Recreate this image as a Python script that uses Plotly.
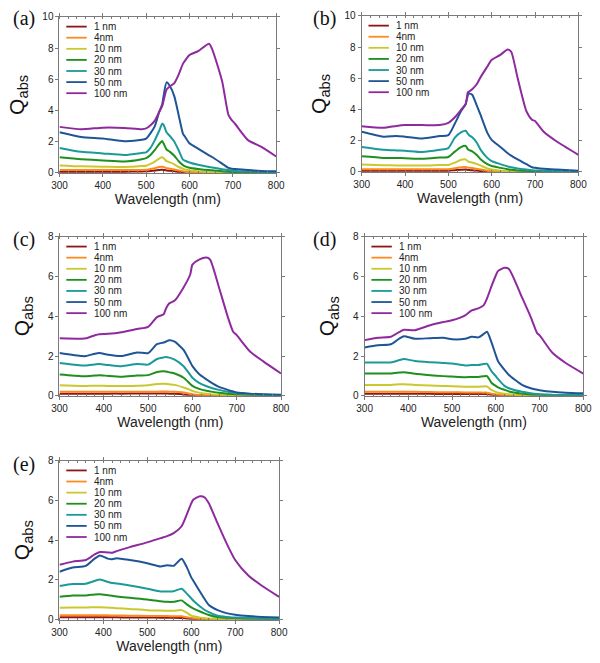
import plotly.graph_objects as go

# ---------------- data ----------------
LABELS = ["1 nm", "4nm", "10 nm", "20 nm", "30 nm", "50 nm", "100 nm"]
COLORS = ["#8c1515", "#ff8a1c", "#c9c92e", "#1f8f1f", "#1a9a98", "#1f5596", "#8e2a9e"]
PANEL_NAMES = ["(a)", "(b)", "(c)", "(d)", "(e)"]
Y_MAX = [10, 10, 8, 8, 8]
X_TICKS = [300, 400, 500, 600, 700, 800]

WL_A = [300, 350, 400, 450, 490, 500, 510, 520, 530, 537, 540, 547, 555, 565, 575, 585, 590, 600, 620, 645, 652, 675, 690, 697, 705, 735, 765, 800]
QA_1 = [0.08, 0.08, 0.08, 0.08, 0.09, 0.1, 0.12, 0.15, 0.19, 0.2, 0.19, 0.16, 0.14, 0.11, 0.07, 0.05, 0.04, 0.03, 0.01, 0, 0, 0, 0, 0, 0, 0, 0, 0]
QA_4 = [0.18, 0.18, 0.18, 0.18, 0.19, 0.2, 0.25, 0.3, 0.38, 0.4, 0.38, 0.3, 0.27, 0.22, 0.15, 0.1, 0.08, 0.05, 0.02, 0.01, 0.01, 0, 0, 0, 0, 0, 0, 0]
QA_10 = [0.48, 0.42, 0.4, 0.38, 0.44, 0.46, 0.58, 0.73, 0.92, 1.0, 0.95, 0.75, 0.68, 0.55, 0.38, 0.27, 0.22, 0.17, 0.1, 0.05, 0.04, 0.02, 0.01, 0.01, 0.01, 0.0, 0.0, 0.0]
QA_20 = [1.0, 0.88, 0.8, 0.73, 0.88, 0.95, 1.15, 1.47, 1.85, 2.05, 1.9, 1.5, 1.35, 1.1, 0.75, 0.5, 0.42, 0.33, 0.25, 0.18, 0.17, 0.1, 0.07, 0.06, 0.05, 0.04, 0.03, 0.02]
QA_30 = [1.6, 1.35, 1.25, 1.15, 1.28, 1.32, 1.6, 2.1, 2.7, 3.15, 3.1, 2.6, 2.35, 2.0, 1.45, 0.85, 0.78, 0.67, 0.52, 0.38, 0.35, 0.24, 0.18, 0.15, 0.13, 0.1, 0.08, 0.06]
QA_50 = [2.6, 2.3, 2.2, 2.03, 2.12, 2.2, 2.55, 3.0, 3.9, 4.4, 4.9, 5.8, 5.55, 4.9, 3.7, 2.5, 2.3, 1.9, 1.55, 1.12, 1.02, 0.6, 0.32, 0.27, 0.25, 0.18, 0.13, 0.1]
QA_100 = [2.95, 2.8, 2.9, 2.88, 2.8, 2.85, 3.05, 3.35, 3.9, 4.3, 4.6, 5.35, 5.55, 5.75, 6.3, 7.0, 7.2, 7.55, 7.8, 8.28, 7.95, 5.9, 3.7, 3.4, 3.15, 2.1, 1.68, 1.05]

WL_B = [300, 350, 380, 400, 440, 480, 500, 515, 530, 540, 545, 548, 555, 565, 575, 590, 600, 620, 637, 645, 660, 680, 693, 700, 720, 750, 800]
QB_1 = [0.07, 0.07, 0.07, 0.07, 0.07, 0.08, 0.08, 0.11, 0.14, 0.15, 0.13, 0.12, 0.11, 0.09, 0.06, 0.03, 0.02, 0.01, 0, 0, 0, 0, 0, 0, 0, 0, 0]
QB_4 = [0.17, 0.17, 0.17, 0.17, 0.17, 0.18, 0.18, 0.24, 0.3, 0.32, 0.28, 0.27, 0.25, 0.2, 0.15, 0.08, 0.05, 0.02, 0.01, 0, 0, 0, 0, 0, 0, 0, 0]
QB_10 = [0.47, 0.43, 0.42, 0.42, 0.41, 0.44, 0.45, 0.6, 0.78, 0.8, 0.68, 0.65, 0.6, 0.52, 0.4, 0.22, 0.15, 0.08, 0.05, 0.04, 0.02, 0.01, 0, 0, 0, 0, 0]
QB_20 = [1.0, 0.9, 0.89, 0.88, 0.84, 0.92, 0.96, 1.3, 1.6, 1.67, 1.45, 1.4, 1.32, 1.1, 0.8, 0.5, 0.38, 0.26, 0.17, 0.14, 0.1, 0.06, 0.04, 0.04, 0.03, 0.02, 0.01]
QB_30 = [1.6, 1.42, 1.38, 1.36, 1.28, 1.42, 1.53, 2.2, 2.55, 2.64, 2.45, 2.35, 2.22, 1.9, 1.4, 0.9, 0.69, 0.5, 0.35, 0.3, 0.22, 0.15, 0.11, 0.1, 0.08, 0.06, 0.04]
QB_50 = [2.57, 2.26, 2.3, 2.26, 2.15, 2.3, 2.36, 3.1, 3.93, 4.35, 4.9, 5.02, 4.94, 4.3, 3.6, 2.5, 2.05, 1.6, 1.2, 1.05, 0.8, 0.5, 0.3, 0.27, 0.2, 0.15, 0.08]
QB_100 = [2.93, 2.83, 2.95, 3.0, 3.0, 3.0, 3.14, 3.5, 4.0, 4.35, 5.1, 5.15, 5.3, 5.6, 6.1, 6.75, 7.18, 7.5, 7.85, 7.7, 6.0, 3.9, 3.35, 3.26, 2.57, 1.95, 1.1]

WL_C = [300, 350, 360, 380, 390, 410, 440, 475, 500, 520, 535, 540, 548, 560, 580, 595, 600, 615, 632, 640, 660, 680, 692, 700, 730, 760, 800]
QC_1 = [0.1, 0.1, 0.1, 0.1, 0.1, 0.11, 0.11, 0.12, 0.12, 0.12, 0.12, 0.12, 0.11, 0.1, 0.07, 0.03, 0.02, 0.01, 0, 0, 0, 0, 0, 0, 0, 0, 0]
QC_4 = [0.2, 0.2, 0.2, 0.2, 0.2, 0.2, 0.2, 0.2, 0.2, 0.21, 0.22, 0.22, 0.21, 0.2, 0.17, 0.1, 0.08, 0.04, 0.02, 0.01, 0, 0, 0, 0, 0, 0, 0]
QC_10 = [0.53, 0.5, 0.5, 0.51, 0.51, 0.5, 0.49, 0.51, 0.53, 0.59, 0.61, 0.6, 0.58, 0.55, 0.42, 0.3, 0.25, 0.16, 0.1, 0.08, 0.05, 0.03, 0.02, 0.02, 0.01, 0, 0]
QC_20 = [1.07, 0.99, 0.99, 1.02, 1.04, 1.0, 0.96, 1.02, 1.04, 1.2, 1.24, 1.22, 1.18, 1.12, 0.91, 0.6, 0.5, 0.35, 0.25, 0.22, 0.15, 0.1, 0.09, 0.08, 0.05, 0.03, 0.02]
QC_30 = [1.65, 1.53, 1.53, 1.58, 1.6, 1.55, 1.49, 1.6, 1.57, 1.85, 1.93, 1.95, 1.92, 1.82, 1.49, 1.05, 0.91, 0.65, 0.48, 0.42, 0.3, 0.2, 0.15, 0.13, 0.08, 0.05, 0.03]
QC_50 = [2.15, 2.0, 2.0, 2.12, 2.15, 2.06, 2.0, 2.18, 2.15, 2.6, 2.68, 2.72, 2.8, 2.72, 2.31, 1.7, 1.49, 1.1, 0.82, 0.7, 0.45, 0.3, 0.22, 0.17, 0.11, 0.08, 0.05]
QC_100 = [2.89, 2.87, 2.89, 3.05, 3.1, 3.12, 3.2, 3.36, 3.47, 3.96, 4.1, 4.37, 4.65, 4.79, 5.45, 6.1, 6.6, 6.85, 6.96, 6.85, 5.45, 3.96, 3.22, 3.05, 2.23, 1.73, 1.12]

WL_D = [300, 330, 360, 380, 390, 415, 450, 480, 500, 530, 545, 560, 572, 580, 590, 600, 605, 620, 630, 660, 680, 695, 700, 730, 760, 800]
QD_1 = [0.1, 0.1, 0.1, 0.1, 0.1, 0.1, 0.1, 0.09, 0.09, 0.09, 0.09, 0.09, 0.09, 0.08, 0.05, 0.03, 0.02, 0.01, 0, 0, 0, 0, 0, 0, 0, 0]
QD_4 = [0.2, 0.2, 0.2, 0.21, 0.21, 0.2, 0.19, 0.18, 0.18, 0.17, 0.17, 0.17, 0.16, 0.16, 0.11, 0.08, 0.06, 0.03, 0.02, 0.01, 0, 0, 0, 0, 0, 0]
QD_10 = [0.55, 0.55, 0.55, 0.58, 0.58, 0.55, 0.52, 0.5, 0.48, 0.46, 0.46, 0.46, 0.47, 0.47, 0.3, 0.2, 0.16, 0.1, 0.08, 0.03, 0.02, 0.01, 0.01, 0, 0, 0]
QD_20 = [1.12, 1.12, 1.12, 1.17, 1.19, 1.11, 1.04, 0.99, 0.97, 0.94, 0.95, 0.95, 0.98, 0.99, 0.66, 0.5, 0.43, 0.3, 0.22, 0.11, 0.07, 0.05, 0.05, 0.03, 0.02, 0.01]
QD_30 = [1.68, 1.68, 1.68, 1.8, 1.85, 1.75, 1.69, 1.65, 1.62, 1.53, 1.55, 1.55, 1.6, 1.6, 1.24, 0.99, 0.85, 0.5, 0.38, 0.2, 0.13, 0.09, 0.08, 0.05, 0.04, 0.03]
QD_50 = [2.43, 2.54, 2.59, 2.89, 3.0, 2.87, 2.9, 2.92, 2.84, 2.87, 2.97, 2.94, 3.1, 3.22, 2.7, 2.05, 1.75, 1.3, 1.05, 0.55, 0.38, 0.3, 0.28, 0.2, 0.16, 0.13]
QD_100 = [2.8, 2.92, 2.97, 3.22, 3.32, 3.3, 3.55, 3.71, 3.8, 4.05, 4.3, 4.4, 4.55, 4.9, 5.5, 6.05, 6.27, 6.44, 6.38, 4.95, 3.96, 3.14, 3.05, 2.15, 1.65, 1.12]

WL_E = [300, 330, 360, 380, 392, 410, 420, 430, 460, 500, 530, 545, 560, 578, 590, 600, 605, 620, 630, 640, 660, 680, 700, 730, 760, 800]
QE_1 = [0.12, 0.12, 0.12, 0.12, 0.12, 0.12, 0.12, 0.12, 0.11, 0.11, 0.1, 0.1, 0.1, 0.09, 0.06, 0.04, 0.03, 0.01, 0.01, 0, 0, 0, 0, 0, 0, 0]
QE_4 = [0.22, 0.22, 0.22, 0.22, 0.22, 0.22, 0.21, 0.21, 0.2, 0.19, 0.18, 0.18, 0.17, 0.17, 0.12, 0.09, 0.07, 0.04, 0.03, 0.02, 0.01, 0, 0, 0, 0, 0]
QE_10 = [0.6, 0.61, 0.61, 0.63, 0.63, 0.61, 0.6, 0.58, 0.54, 0.48, 0.46, 0.45, 0.45, 0.48, 0.35, 0.2, 0.17, 0.1, 0.08, 0.06, 0.04, 0.03, 0.02, 0.01, 0, 0]
QE_20 = [1.15, 1.22, 1.22, 1.27, 1.28, 1.23, 1.2, 1.17, 1.1, 1.02, 0.93, 0.9, 0.9, 0.97, 0.77, 0.62, 0.56, 0.41, 0.32, 0.24, 0.13, 0.1, 0.08, 0.05, 0.04, 0.03]
QE_30 = [1.69, 1.79, 1.81, 1.95, 2.02, 1.9, 1.84, 1.82, 1.72, 1.56, 1.42, 1.42, 1.43, 1.56, 1.31, 1.07, 0.95, 0.66, 0.5, 0.38, 0.2, 0.14, 0.11, 0.08, 0.06, 0.05]
QE_50 = [2.41, 2.62, 2.71, 3.07, 3.23, 3.07, 3.04, 3.09, 3.0, 2.84, 2.68, 2.74, 2.71, 3.07, 2.63, 2.13, 1.95, 1.4, 1.05, 0.74, 0.48, 0.33, 0.25, 0.18, 0.14, 0.11]
QE_100 = [2.76, 2.92, 3.0, 3.28, 3.4, 3.38, 3.37, 3.45, 3.65, 3.89, 4.1, 4.2, 4.35, 4.7, 5.3, 5.85, 6.04, 6.21, 6.16, 5.85, 4.84, 3.86, 3.0, 2.22, 1.72, 1.15]

PANELS = [
    (WL_A, [QA_1, QA_4, QA_10, QA_20, QA_30, QA_50, QA_100]),
    (WL_B, [QB_1, QB_4, QB_10, QB_20, QB_30, QB_50, QB_100]),
    (WL_C, [QC_1, QC_4, QC_10, QC_20, QC_30, QC_50, QC_100]),
    (WL_D, [QD_1, QD_4, QD_10, QD_20, QD_30, QD_50, QD_100]),
    (WL_E, [QE_1, QE_4, QE_10, QE_20, QE_30, QE_50, QE_100]),
]

# ---------------- layout (pixel boxes of plot areas) ----------------
W, H = 600, 663
BOXES = [(53, 11, 276, 170), (364, 10, 587, 169),
         (53, 235, 281, 397), (367, 235, 592, 397),
         (53, 463, 279, 625)]
LABEL_POS = [(3, 13), (312, 13), (3, 238), (312, 238), (3, 467)]

AXIS_COLOR = "#7a7a7a"
FONT = "Arial, Liberation Sans, sans-serif"

fig = go.Figure()
layout = dict(width=W, height=H, margin=dict(l=0, r=0, t=0, b=0),
              paper_bgcolor="white", plot_bgcolor="white", showlegend=False,
              font=dict(family=FONT, color="#222"))
shapes, annots = [], []

for i, ((wl, series), box, ymax, name, lpos) in enumerate(zip(PANELS, BOXES, Y_MAX, PANEL_NAMES, LABEL_POS)):
    sfx = "" if i == 0 else str(i + 1)
    xid, yid = "x" + sfx, "y" + sfx
    x0, y0, x1, y1 = box
    for lab, col, q in zip(LABELS, COLORS, series):
        fig.add_trace(go.Scatter(x=wl, y=q, mode="lines", name=lab,
                                 line=dict(color=col, width=2, shape="spline", smoothing=0.6),
                                 xaxis=xid, yaxis=yid, showlegend=False))
    common = dict(showline=True, linecolor=AXIS_COLOR, linewidth=1, mirror="ticks",
                  ticks="outside", ticklen=3, tickcolor=AXIS_COLOR, tickwidth=1,
                  showgrid=False, zeroline=False,
                  tickfont=dict(size=10, family=FONT, color="#222"))
    layout["xaxis" + sfx] = dict(common, domain=[x0 / W, x1 / W], anchor=yid,
                                 range=[300, 800], tickvals=X_TICKS,
                                 minor=dict(ticks="inside", ticklen=2, dtick=20, tickcolor=AXIS_COLOR),
                                 title=dict(text="Wavelength (nm)", font=dict(size=14, family=FONT, color="#222"), standoff=4))
    layout["yaxis" + sfx] = dict(common, domain=[1 - y1 / H, 1 - y0 / H], anchor=xid,
                                 range=[0, ymax], dtick=2,
                                 title=dict(text="Q<sub>abs</sub>", font=dict(size=21, family=FONT, color="#111"), standoff=12))
    # panel label
    annots.append(dict(text=name, xref="paper", yref="paper", x=lpos[0] / W, y=1 - lpos[1] / H,
                       xanchor="left", yanchor="middle", showarrow=False,
                       font=dict(family="Liberation Serif, Times New Roman, serif", size=20, color="#111")))
    # legend (drawn manually for compact spacing)
    pw, ph = x1 - x0, y1 - y0
    for k, (lab, col) in enumerate(zip(LABELS, COLORS)):
        yy = 1 - (10 + 11.3 * k) / ph
        shapes.append(dict(type="line", xref=xid + " domain", yref=yid + " domain",
                           x0=7 / pw, x1=28 / pw, y0=yy, y1=yy,
                           line=dict(color=col, width=1.8)))
        annots.append(dict(text=lab, xref=xid + " domain", yref=yid + " domain",
                           x=33 / pw, y=yy, xanchor="left", yanchor="middle", showarrow=False,
                           font=dict(size=10, family=FONT, color="#222")))

layout["shapes"] = shapes
layout["annotations"] = annots
fig.update_layout(**layout)
fig.write_html("out.html", config={"displayModeBar": False},
               post_script="document.body.style.margin='0';document.body.style.overflow='hidden';")
